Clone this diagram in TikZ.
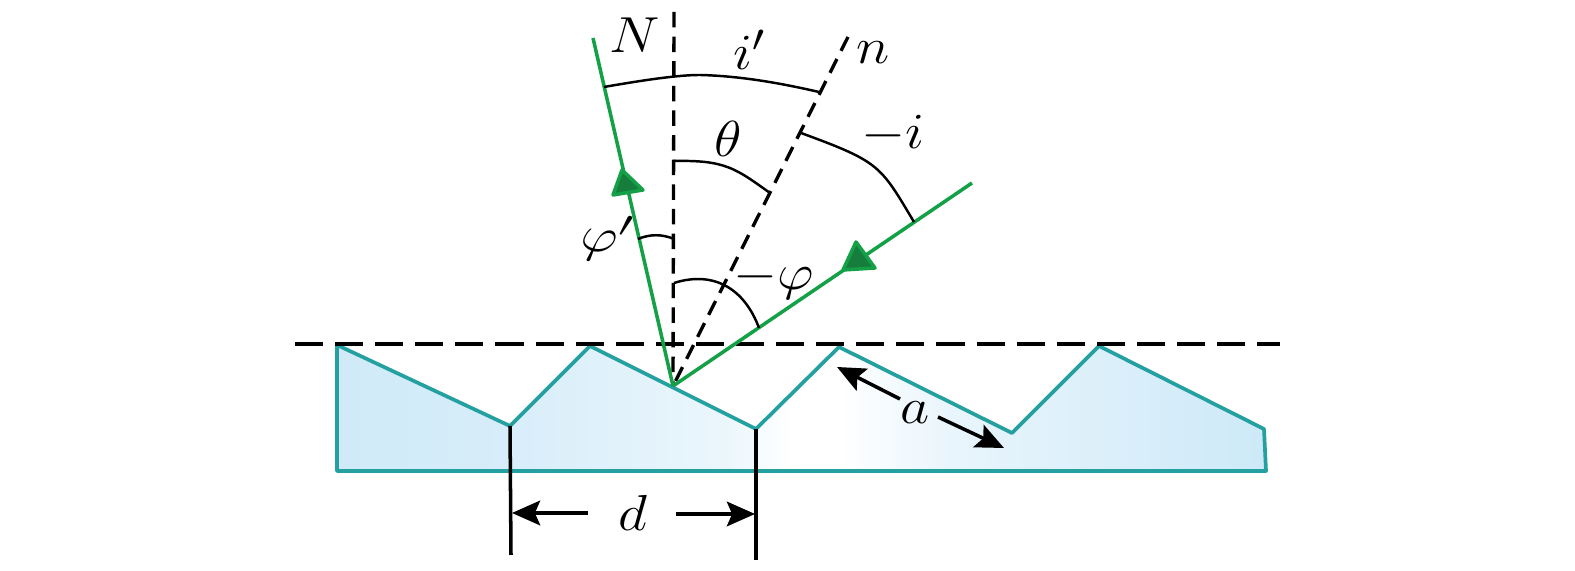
\documentclass[tikz,border=0pt]{standalone}
\usepackage{amsmath}
\usetikzlibrary{arrows.meta}
\definecolor{tealedge}{RGB}{36,160,160}
\definecolor{raygreen}{RGB}{20,160,70}
\definecolor{tipgreen}{RGB}{22,125,60}
\definecolor{paleblue}{RGB}{205,233,248}
\pgfdeclarehorizontalshading{gratingshade}{100bp}{
  color(0bp)=(paleblue); color(25bp)=(paleblue!95!white); color(34bp)=(paleblue!80!white);
  color(46bp)=(paleblue!40!white); color(49.5bp)=(white); color(52bp)=(white);
  color(58bp)=(paleblue!45!white); color(66bp)=(paleblue!70!white); color(75bp)=(paleblue);
  color(100bp)=(paleblue)}
\tikzset{
  ray/.style={raygreen, line width=1pt},
  normal/.style={black, line width=0.95pt, dash pattern=on 4.4pt off 2.6pt},
  surface/.style={black, line width=0.95pt, dash pattern=on 8pt off 3.4pt},
  anglearc/.style={black, line width=0.7pt},
  dimline/.style={black, line width=1pt},
  dimarrow/.style={black, line width=1pt, -{Stealth[length=8pt,width=7pt,inset=1.5pt]}},
  raytip/.style={fill=tipgreen, draw=raygreen, line width=1pt, line join=round},
  lab/.style={font=\fontsize{15}{17}\selectfont, inner sep=0pt, xscale=1.12}
}
\begin{document}
\begin{tikzpicture}[x=0.01cm, y=-0.01cm]
  \useasboundingbox (0,0) rectangle (1575,571);

  % Grating profile
  \def\profile{(337,345) -- (510,426) -- (590,346) -- (756,429) -- (839,347) -- (1012,433)
    -- (1099,346) -- (1264,429) -- (1266,471) -- (337,471) -- cycle}
  \shade[shading=gratingshade] \profile;
  \draw[tealedge, line width=1.05pt, line join=round] \profile;

  % Points of the construction
  \coordinate (hit) at (673,386);
  \coordinate (normaltop) at (674,12);
  \coordinate (gratingtop) at (848,37);
  \coordinate (rayout) at (593,38);
  \coordinate (rayin) at (972,183);
  \coordinate (surfaceleft) at (295,344);
  \coordinate (surfaceright) at (1280,344);

  % Dashed lines
  \draw[surface] (surfaceleft) -- (surfaceright);
  \draw[normal] (normaltop) -- (hit);
  \draw[normal] (gratingtop) -- (hit);

  % Rays with their arrowheads
  \draw[ray] (hit) -- (rayout);
  \draw[ray] (hit) -- (rayin);
  \draw[raytip] (622,170) -- (643,190) -- (613,195) -- cycle;
  \draw[raytip] (843,270) -- (856,242) -- (875,268) -- cycle;

  % Angle arcs
  \draw[anglearc] (604,87) .. controls (650,79) and (680,75) .. (700,75) .. controls (740,76) and (780,83) .. (819,92);
  \draw[anglearc] (674,161) .. controls (725,160) and (735,168) .. (770,193);
  \draw[anglearc] (801,133) .. controls (880,162) and (880,165) .. (914,222);
  \draw[anglearc] (638,239) .. controls (650,234) and (662,234) .. (674,239);
  \draw[anglearc] (674,283) .. controls (715,270) and (745,290) .. (759,328);

  % Dimension d
  \coordinate (dleft) at (510,426);
  \coordinate (dleftend) at (511,555);
  \coordinate (dright) at (756,429);
  \coordinate (drightend) at (756,560);
  \draw[dimline] (dleft) -- (dleftend);
  \draw[dimline] (dright) -- (drightend);
  \node[lab] (dlabel) at (633,513) {$d$};
  \coordinate (dstartl) at (588,513);
  \coordinate (dtipl) at (512,513);
  \coordinate (dstartr) at (676,514);
  \coordinate (dtipr) at (755,514);
  \draw[dimarrow] (dstartl) -- (dtipl);
  \draw[dimarrow] (dstartr) -- (dtipr);

  % Dimension a
  \node[lab] (alabel) at (915,413) {$a$};
  \coordinate (astartl) at (900,399);
  \coordinate (atipl) at (837,367);
  \coordinate (astartr) at (938,417);
  \coordinate (atipr) at (1004,448);
  \draw[dimarrow] (astartl) -- (atipl);
  \draw[dimarrow] (astartr) -- (atipr);

  % Labels
  \node[lab] (Nlabel) at (635,35) {$N$};
  \node[lab] (nlabel) at (873,53) {$n$};
  \node[lab] (iprimelabel) at (750,50) {$i'$};
  \node[lab] (thetalabel) at (728,139) {$\theta$};
  \node[lab] (ilabel) at (893,134) {$-i$};
  \node[lab] (philabel) at (774,280) {$-\varphi$};
  \node[lab, rotate=-8] (phiprimelabel) at (607,238) {$\varphi'$};
\end{tikzpicture}
\end{document}
